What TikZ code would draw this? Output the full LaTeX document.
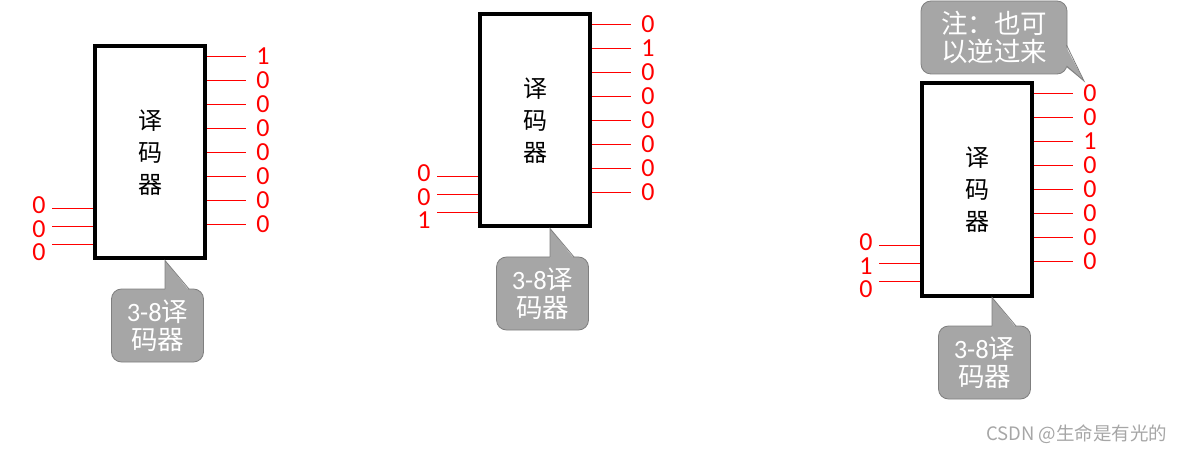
\documentclass[tikz,border=0pt]{standalone}
\usepackage{fontspec}
\setmainfont{Carlito}
\newfontfamily\cjk{Noto Sans CJK SC}
\definecolor{tagfill}{HTML}{A6A6A6}
\definecolor{tagline}{HTML}{7F7F7F}
\definecolor{bitred}{HTML}{FF0000}
\tikzset{
  decbox/.style={draw=black, text=black, line width=4pt, minimum width=110pt, minimum height=212pt,
    inner sep=0pt, align=center, font=\cjk\fontsize{24}{32}\selectfont},
  wire/.style={draw=bitred, line width=1.5pt},
  bit/.style={text=bitred, inner ysep=0pt, inner xsep=10pt, font=\fontsize{26}{26}\selectfont},
  tag/.style={fill=tagfill, draw=tagline, line width=0.8pt, rounded corners=10pt,
    inner sep=0pt, align=center, text=white, font=\fontsize{26.5}{28.5}\selectfont},
}
\begin{document}
\begin{tikzpicture}[x=1pt,y=-1pt,color=bitred]
  \useasboundingbox (0,0) rectangle (1185,454);
  % three 3-8 decoders: number/centre/outputs/inputs
  \foreach \n/\cx/\cy/\outs/\ins in {
      1/150/152.5/{1,0,0,0,0,0,0,0}/{0,0,0},
      2/535/120.5/{0,1,0,0,0,0,0,0}/{0,0,1},
      3/977/189.5/{0,0,1,0,0,0,0,0}/{0,1,0}} {
    \node[decbox] (d\n) at (\cx,\cy) {译\\码\\器};
    % outputs
    \foreach \b [count=\k] in \outs {
      \node[bit] (d\n-o\k) at (\cx+113, \cy-96+24*\k-24) {\b};
      \draw[wire] (d\n.east |- d\n-o\k) -- (d\n-o\k.west);
    }
    % inputs
    \foreach \b [count=\k] in \ins {
      \node[bit, inner xsep=0pt] (d\n-b\k) at (\cx-111, \cy+53+23.5*\k-23.5) {\b};
      \coordinate (d\n-i\k) at (\cx-98, \cy+56+18*\k-18);
      \draw[wire] (d\n-i\k) -- (d\n.west |- d\n-i\k);
    }
    % callout below the box
    \node[tag, minimum width=92pt, minimum height=73pt] (c\n) at (\cx+7.5,\cy+173) {3-8{\cjk 译}\\{\cjk 码器}};
    \fill[tagfill] (\cx+15,\cy+108) -- (\cx+15,\cy+138) -- (\cx+39,\cy+138) -- cycle;
    \draw[tagline, line width=0.8pt] (\cx+39,\cy+136.5) -- (\cx+15,\cy+108) -- (\cx+15,\cy+136.5);
  }
  % note above the third decoder
  \node[tag, minimum width=146pt, minimum height=73pt, font=\cjk\fontsize{26.5}{28.5}\selectfont] (note) at (994,37.5) {注：也可\\以逆过来};
  \fill[tagfill] (1065,45) -- (1084,81) -- (1065,66) -- cycle;
  \draw[tagline, line width=0.8pt] (1066.5,45) -- (1084,81) -- (1066.5,66);
  \node[anchor=east, text=gray!70, font=\cjk\fontsize{18.5}{18.5}\selectfont] (mark) at (1171,434) {CSDN @生命是有光的};
\end{tikzpicture}
\end{document}
